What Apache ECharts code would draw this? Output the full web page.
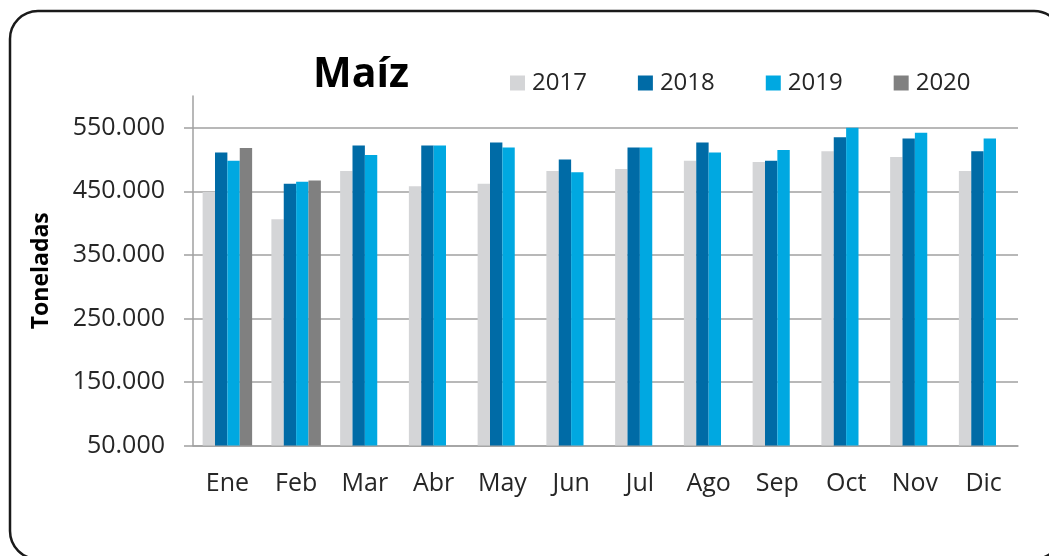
<!DOCTYPE html>
<html>
<head>
<meta charset="utf-8">
<title>Maíz</title>
<script src="https://cdn.jsdelivr.net/npm/echarts@6/dist/echarts.min.js"></script>
<style>
  html, body { margin: 0; padding: 0; background: #fff; }
  #chart { width: 1049px; height: 556px; }
</style>
</head>
<body>
<div id="chart"></div>
<script>
const months = ['Ene', 'Feb', 'Mar', 'Abr', 'May', 'Jun', 'Jul', 'Ago', 'Sep', 'Oct', 'Nov', 'Dic']
const years = ['2017', '2018', '2019', '2020']

const values2017 = [449000, 406000, 482000, 458000, 462000, 482000, 485000, 498000, 496000, 513000, 504000, 482000]
const values2018 = [511000, 462000, 522000, 522000, 527000, 500000, 519000, 527000, 498000, 535000, 533000, 513000]
const values2019 = [498000, 465000, 507000, 522000, 519000, 480000, 519000, 511000, 515000, 550000, 542000, 533000]
const values2020 = [518000, 467000, null, null, null, null, null, null, null, null, null, null]

const yTicks = [50000, 150000, 250000, 350000, 450000, 550000]

const colors = ['#d4d5d7', '#006ba6', '#00a8e1', '#808080']
const font = '"Open Sans", "Liberation Sans", sans-serif'

// 50000 -> "50.000"
const fmt = (v) => String(v).replace(/\B(?=(\d{3})+(?!\d))/g, '.')

const chart = echarts.init(document.getElementById('chart'))

const makeSeries = (name, data, i) => ({
  name,
  type: 'bar',
  data,
  barGap: '0%',
  barCategoryGap: '28%',
  itemStyle: { color: colors[i] },
  emphasis: { disabled: true },
})

chart.setOption({
  animation: false,
  textStyle: { fontFamily: font },
  graphic: [
    {
      type: 'rect',
      shape: { x: 10, y: 11, width: 1052, height: 548, r: 28 },
      style: { fill: 'none', stroke: '#1a1a1a', lineWidth: 2.5 },
      silent: true,
    },
  ],
  title: {
    text: 'Maíz',
    left: 308,
    top: 50,
    textStyle: { fontFamily: font, fontSize: 41, fontWeight: 'bold', color: '#000' },
  },
  legend: {
    left: 505,
    top: 66,
    itemWidth: 15,
    itemHeight: 15,
    itemGap: 51,
    icon: 'rect',
    selectedMode: false,
    textStyle: { fontFamily: font, fontSize: 24, color: '#262626', padding: [0, 0, 0, 2] },
    data: years,
  },
  grid: {
    left: 193,
    right: 31,
    top: 96,
    bottom: 110.5,
  },
  xAxis: {
    type: 'category',
    data: months,
    axisLine: { lineStyle: { color: '#a0a0a0', width: 1.5 } },
    axisTick: { show: false },
    axisLabel: { color: '#262626', fontSize: 25, margin: 26, fontFamily: font },
  },
  yAxis: {
    type: 'value',
    min: 50000,
    max: 600000,
    name: 'Toneladas',
    nameLocation: 'middle',
    nameGap: 140,
    nameTextStyle: { fontFamily: font, fontSize: 23, fontWeight: 'bold', color: '#000' },
    axisLine: { show: true, lineStyle: { color: '#a0a0a0', width: 1.5 } },
    axisTick: { show: true, length: 9, customValues: yTicks, lineStyle: { color: '#a0a0a0', width: 1.5 } },
    splitLine: { show: true, lineStyle: { color: '#a0a0a0', width: 1.5 } },
    axisLabel: {
      customValues: yTicks,
      color: '#262626',
      fontSize: 25,
      margin: 28,
      fontFamily: font,
      formatter: (v) => fmt(v),
    },
  },
  series: [
    makeSeries(years[0], values2017, 0),
    makeSeries(years[1], values2018, 1),
    makeSeries(years[2], values2019, 2),
    makeSeries(years[3], values2020, 3),
  ],
})
</script>
</body>
</html>
